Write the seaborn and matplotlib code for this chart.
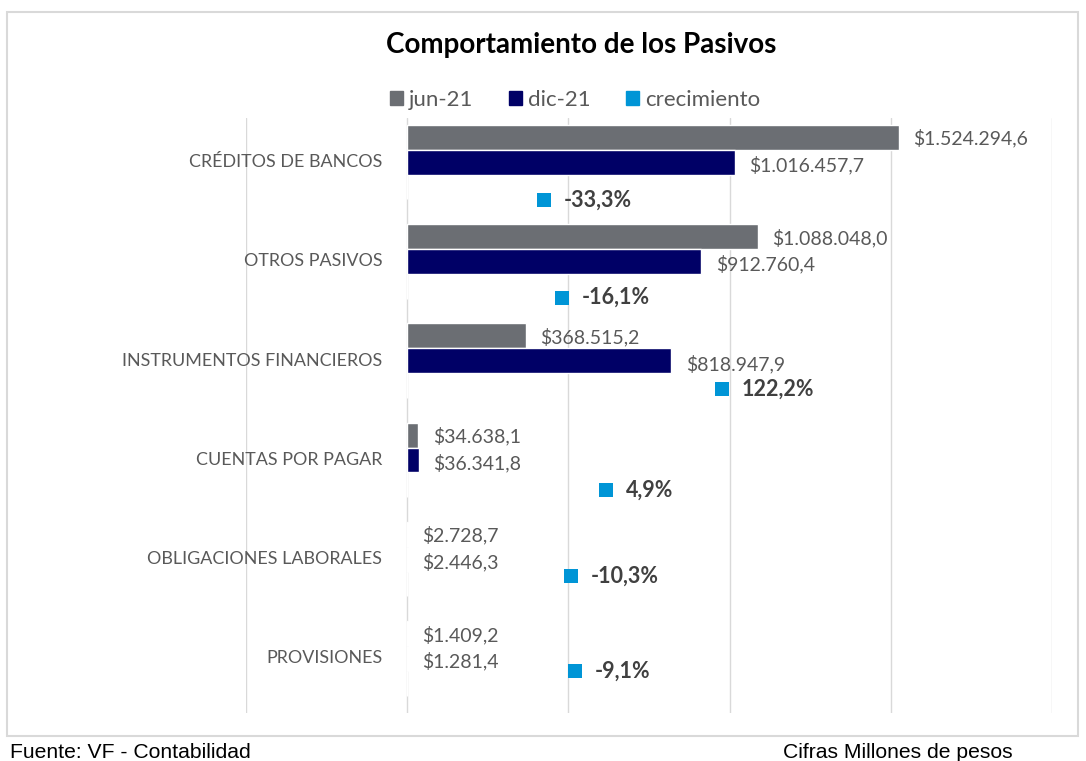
"""
Comportamiento de los Pasivos: barras horizontales jun-21 vs dic-21 con crecimiento.
"""

import numpy as np
import pandas as pd
import matplotlib
matplotlib.use("Agg")
import matplotlib.pyplot as plt
import matplotlib.patches as mpatches
import seaborn as sns

# ── Datos ─────────────────────────────────────────────────────────────────────
categorias = [
    "CRÉDITOS DE BANCOS",
    "OTROS PASIVOS",
    "INSTRUMENTOS FINANCIEROS",
    "CUENTAS POR PAGAR",
    "OBLIGACIONES LABORALES",
    "PROVISIONES",
]
series = ["jun-21", "dic-21", "crecimiento"]
jun_21 = [1524294.6, 1088048.0, 368515.2, 34638.1, 2728.7, 1409.2]
dic_21 = [1016457.7, 912760.4, 818947.9, 36341.8, 2446.3, 1281.4]
crecimiento = [-33.3, -16.1, 122.2, 4.9, -10.3, -9.1]  # %

# ── Estilo / posiciones de etiquetas ──────────────────────────────────────────
COLORES = ["#6b6e73", "#000066", "#0095d6"]
TEXTO = "#595959"
# posición manual de las etiquetas de crecimiento (x en millones, desplazamiento y)
crec_label_x = [424700, 480500, 976000, 616900, 508400, 520800]
crec_label_dy = [0.135, 0.114, 0.033, 0.052, -0.079, -0.12]


def fmt_pesos(v: float) -> str:
    s = f"{v:,.1f}".replace(",", "X").replace(".", ",").replace("X", ".")
    return "$" + s


df = pd.DataFrame({
    "categoria": categorias * 3,
    "serie": np.repeat(series, len(categorias)),
    "valor": jun_21 + dic_21 + [c / 100 for c in crecimiento],
})

sns.set_theme(style="white")
plt.rcParams["font.family"] = ["Lato", "DejaVu Sans"]

W, H = 1086, 761
fig = plt.figure(figsize=(W / 100, H / 100), dpi=100)
ax = fig.add_axes([246 / W, 1 - 713 / H, (1052 - 246) / W, (713 - 118) / H])

sns.barplot(
    data=df, y="categoria", x="valor", hue="serie", hue_order=series,
    palette=COLORES, orient="h", width=0.75, gap=0, errorbar=None,
    saturation=1, ax=ax,
)
ax.get_legend().remove()

ax.set_xlim(-500000, 2000000)
ax.set_ylim(5.55, -0.445)
ax.set_xticks(np.arange(-500000, 2000001, 500000))
ax.xaxis.grid(True, color="#d9d9d9", linewidth=1)
ax.set_axisbelow(True)
ax.set_xticklabels([])
ax.set_yticks([])
ax.set_xlabel("")
ax.set_ylabel("")
ax.tick_params(length=0)
for s in ax.spines.values():
    s.set_visible(False)

# etiquetas de categoría
for i, cat in enumerate(categorias):
    ax.text(-77500, i, cat, ha="right", va="center", fontsize=12.9, color=TEXTO)

# etiquetas de valores
for i in range(len(categorias)):
    ax.text(jun_21[i] + 45000, i - 0.24, fmt_pesos(jun_21[i]),
            ha="left", va="center", fontsize=14, color=TEXTO)
    ax.text(dic_21[i] + 45000, i + 0.03, fmt_pesos(dic_21[i]),
            ha="left", va="center", fontsize=14, color=TEXTO)
    yy = i + 0.25 + crec_label_dy[i]
    ax.scatter([crec_label_x[i]], [yy], marker="s", s=115, color=COLORES[2],
               zorder=5, linewidths=0)
    ax.text(crec_label_x[i] + 62000, yy, f"{crecimiento[i]:.1f}%".replace(".", ","),
            ha="left", va="center", fontsize=15.5, fontweight="bold", color="#404040")

# título y leyenda
fig.text(581 / W, 1 - 45 / H, "Comportamiento de los Pasivos", ha="center",
         va="center", fontsize=20, fontweight="bold", color="black")
handles = [mpatches.Patch(color=c, label=s) for c, s in zip(COLORES, series)]
fig.legend(handles=handles, loc="center", bbox_to_anchor=(575 / W, 1 - 100 / H),
           ncol=3, frameon=False, fontsize=16, handlelength=0.6,
           handleheight=0.6, handletextpad=0.25, columnspacing=1.6,
           labelcolor=TEXTO)

# marco del gráfico
fig.patches.append(mpatches.Rectangle((7 / W, 1 - 736 / H), (1078 - 7) / W,
                                      (736 - 12) / H, transform=fig.transFigure,
                                      fill=False, edgecolor="#d9d9d9", linewidth=1.5))

# pie de página
fig.text(10 / W, 1 - 752 / H, "Fuente: VF - Contabilidad", ha="left", va="center",
         fontsize=15.2, color="black", family="Liberation Sans")
fig.text(783 / W, 1 - 752 / H, "Cifras Millones de pesos", ha="left", va="center",
         fontsize=15.2, color="black", family="Liberation Sans")

fig.savefig("out.png", dpi=100)
